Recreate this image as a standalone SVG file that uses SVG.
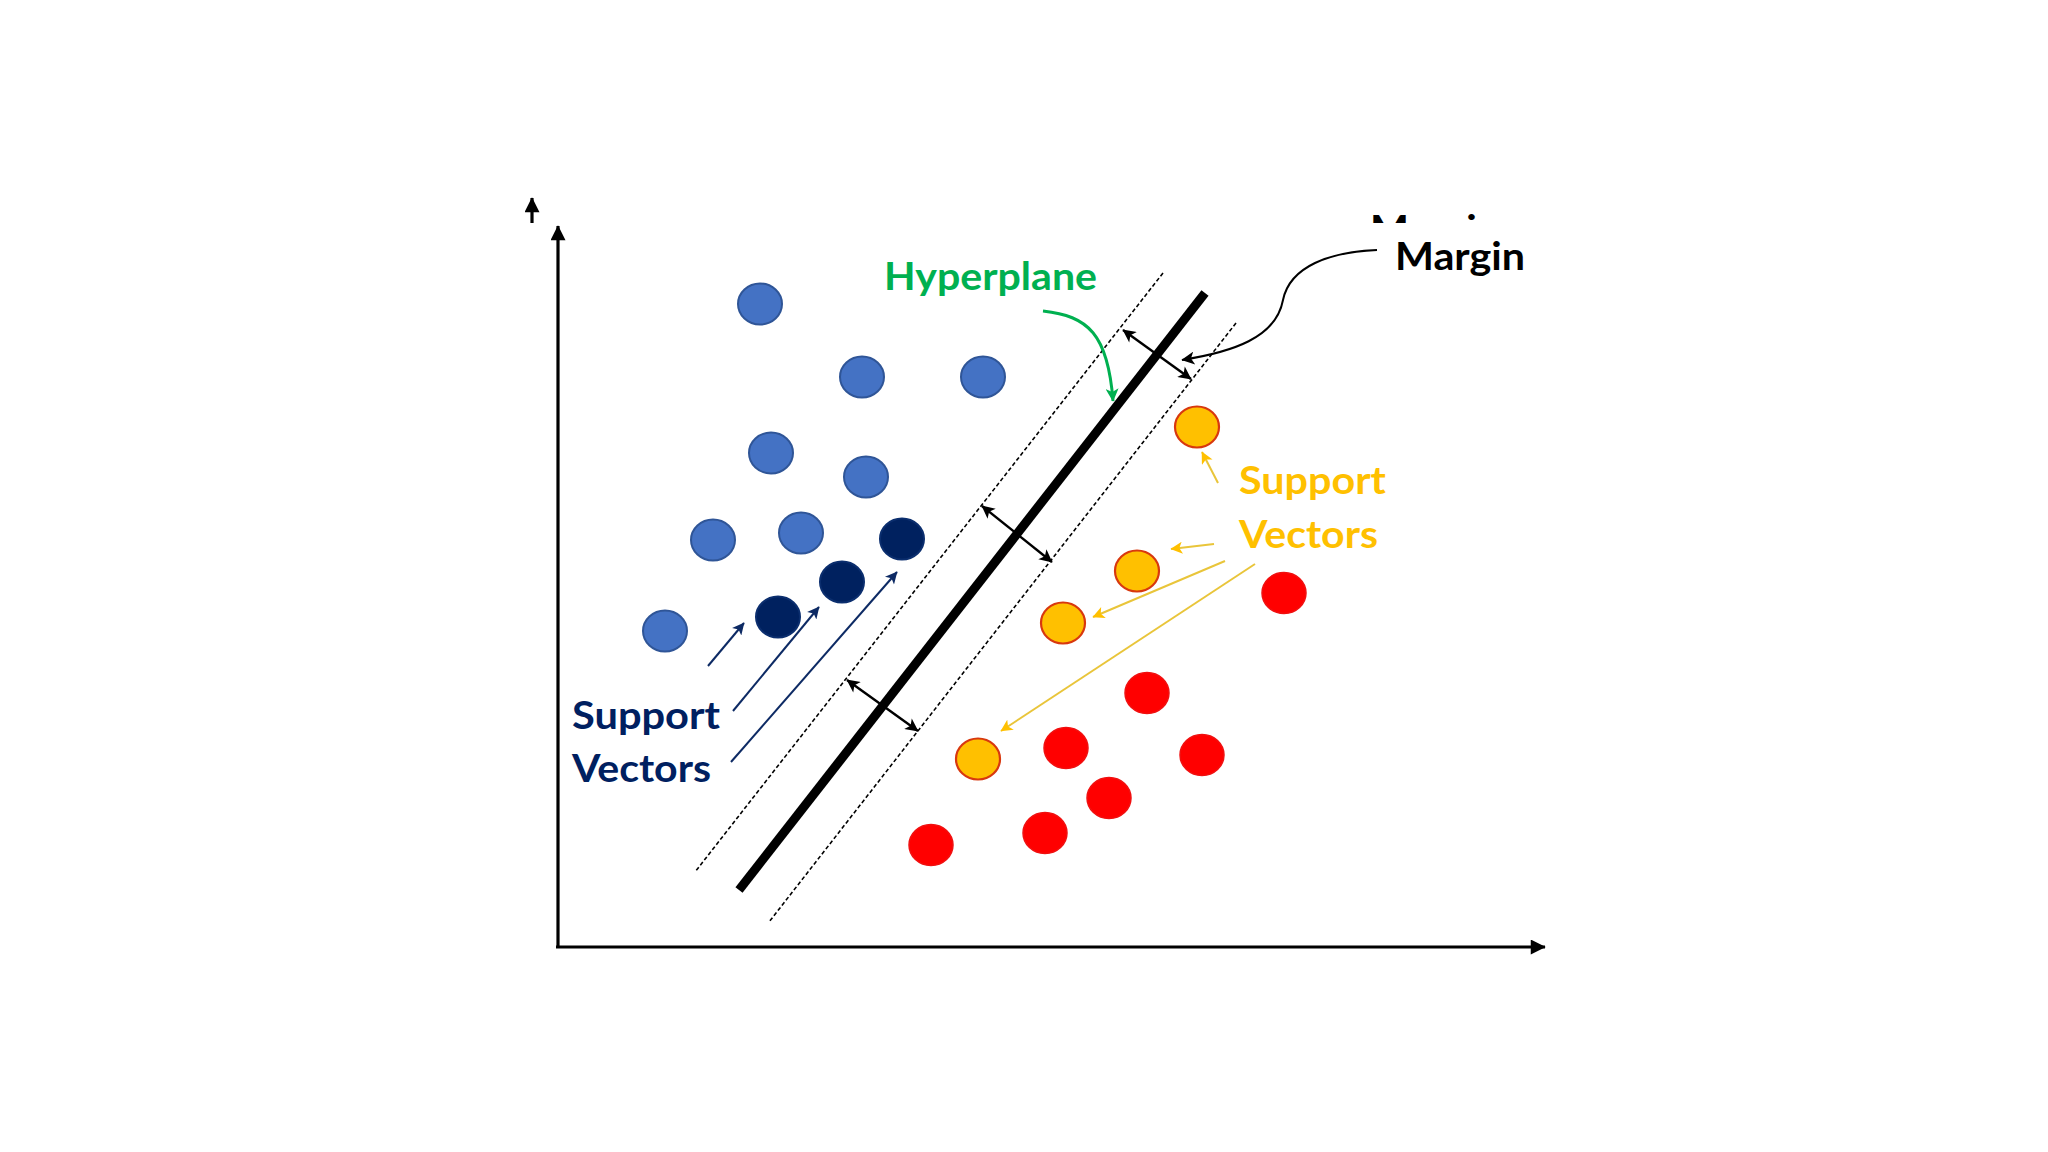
<svg xmlns="http://www.w3.org/2000/svg" width="2048" height="1152" viewBox="0 0 2048 1152">
  <style>
    .lbl { font-family: Lato, "Open Sans", "Liberation Sans", sans-serif; font-weight: bold; font-size: 39px; }
    .blue { fill: #4472C4; stroke: #2F5597; stroke-width: 2; }
    .dark { fill: #00215F; stroke: #0B2E6E; stroke-width: 2; }
    .red { fill: #FF0000; stroke: #F01010; stroke-width: 1.5; }
    .sv { fill: #FFC000; stroke: #D8380E; stroke-width: 2.2; }
    .axis { stroke: #000; stroke-width: 3.2; fill: none; }
    .dash { stroke: #000; stroke-width: 1.6; stroke-dasharray: 4 2.5; fill: none; }
    .dbl { stroke: #000; stroke-width: 2.4; fill: none; marker-start: url(#ab); marker-end: url(#ab); }
    .nav { stroke: #0D2A64; stroke-width: 2; fill: none; marker-end: url(#an); }
    .yel { stroke: #E9C53A; stroke-width: 2; fill: none; marker-end: url(#ay); }
  </style>
  <defs>
    <marker id="ab" viewBox="0 0 10 10" refX="9.5" refY="5" markerUnits="userSpaceOnUse" markerWidth="15" markerHeight="13" orient="auto-start-reverse">
      <path d="M0,0 L10,5 L0,10 L2.5,5 z" fill="#000"/>
    </marker>
    <marker id="aa" viewBox="0 0 10 10" refX="9.5" refY="5" markerUnits="userSpaceOnUse" markerWidth="17" markerHeight="15" orient="auto">
      <path d="M0,0 L10,5 L0,10 z" fill="#000"/>
    </marker>
    <marker id="an" viewBox="0 0 10 10" refX="9.5" refY="5" markerUnits="userSpaceOnUse" markerWidth="14" markerHeight="12" orient="auto">
      <path d="M0,0 L10,5 L0,10 L2.5,5 z" fill="#0D2A64"/>
    </marker>
    <marker id="ay" viewBox="0 0 10 10" refX="9.5" refY="5" markerUnits="userSpaceOnUse" markerWidth="14" markerHeight="12" orient="auto">
      <path d="M0,0 L10,5 L0,10 L2.5,5 z" fill="#FFC000"/>
    </marker>
    <marker id="ag" viewBox="0 0 10 10" refX="9.5" refY="5" markerUnits="userSpaceOnUse" markerWidth="15" markerHeight="13" orient="auto">
      <path d="M0,0 L10,5 L0,10 L2.5,5 z" fill="#00B050"/>
    </marker>
    <marker id="am" viewBox="0 0 10 10" refX="9.5" refY="5" markerUnits="userSpaceOnUse" markerWidth="15" markerHeight="13" orient="auto">
      <path d="M0,0 L10,5 L0,10 L2.5,5 z" fill="#000"/>
    </marker>
    <clipPath id="ghostclip"><rect x="1360" y="205" width="200" height="18"/></clipPath>
  </defs>
  <rect width="2048" height="1152" fill="#fff"/>

  <g id="axes">
    <line class="axis" x1="558" y1="947" x2="558" y2="226" marker-end="url(#aa)"/>
    <line class="axis" x1="556" y1="947" x2="1545" y2="947" marker-end="url(#aa)"/>
    <line class="axis" x1="532" y1="223" x2="532" y2="198" marker-end="url(#aa)"/>
  </g>

  <g id="hyperplane-lines">
    <line x1="1205" y1="293" x2="739" y2="890" stroke="#000" stroke-width="9"/>
    <line class="dash" x1="1163" y1="273" x2="695" y2="872"/>
    <line class="dash" x1="1236" y1="323" x2="769" y2="922"/>
  </g>

  <g id="connectors">
    <line class="dbl" x1="1123" y1="330" x2="1191" y2="379"/>
    <line class="dbl" x1="982" y1="506" x2="1052" y2="562"/>
    <line class="dbl" x1="847" y1="680" x2="918" y2="731"/>
    <path d="M1377,250 C1330,252 1290,266 1283,300 C1276,338 1232,352 1182,360" stroke="#000" stroke-width="2" fill="none" marker-end="url(#am)"/>
    <path d="M1043,311 C1088,316 1108,334 1113,401" stroke="#00B050" stroke-width="3" fill="none" marker-end="url(#ag)"/>
    <line class="nav" x1="708" y1="666" x2="744" y2="623"/>
    <line class="nav" x1="733" y1="711" x2="819" y2="607"/>
    <line class="nav" x1="731" y1="762" x2="897" y2="572"/>
    <line class="yel" x1="1218" y1="483" x2="1202" y2="452"/>
    <line class="yel" x1="1214" y1="544" x2="1171" y2="549"/>
    <line class="yel" x1="1225" y1="561" x2="1093" y2="617"/>
    <line class="yel" x1="1255" y1="564" x2="1001" y2="731"/>
  </g>

  <g id="class-blue">
    <ellipse id="b1" class="blue" cx="760" cy="304" rx="22" ry="20.5"/>
    <ellipse id="b2" class="blue" cx="862" cy="377" rx="22" ry="20.5"/>
    <ellipse id="b3" class="blue" cx="983" cy="377" rx="22" ry="20.5"/>
    <ellipse id="b4" class="blue" cx="771" cy="453" rx="22" ry="20.5"/>
    <ellipse id="b5" class="blue" cx="866" cy="477" rx="22" ry="20.5"/>
    <ellipse id="b6" class="blue" cx="713" cy="540" rx="22" ry="20.5"/>
    <ellipse id="b7" class="blue" cx="801" cy="533" rx="22" ry="20.5"/>
    <ellipse id="b8" class="blue" cx="665" cy="631" rx="22" ry="20.5"/>
  </g>
  <g id="blue-support-vectors">
    <ellipse id="d1" class="dark" cx="902" cy="539" rx="22" ry="20.5"/>
    <ellipse id="d2" class="dark" cx="842" cy="582" rx="22" ry="20.5"/>
    <ellipse id="d3" class="dark" cx="778" cy="617" rx="22" ry="20.5"/>
  </g>
  <g id="red-support-vectors">
    <ellipse id="o1" class="sv" cx="1197" cy="427" rx="22" ry="20.5"/>
    <ellipse id="o2" class="sv" cx="1137" cy="571" rx="22" ry="20.5"/>
    <ellipse id="o3" class="sv" cx="1063" cy="623" rx="22" ry="20.5"/>
    <ellipse id="o4" class="sv" cx="978" cy="759" rx="22" ry="20.5"/>
  </g>
  <g id="class-red">
    <ellipse id="r1" class="red" cx="1284" cy="593" rx="22" ry="20.5"/>
    <ellipse id="r2" class="red" cx="1147" cy="693" rx="22" ry="20.5"/>
    <ellipse id="r3" class="red" cx="1066" cy="748" rx="22" ry="20.5"/>
    <ellipse id="r4" class="red" cx="1202" cy="755" rx="22" ry="20.5"/>
    <ellipse id="r5" class="red" cx="1109" cy="798" rx="22" ry="20.5"/>
    <ellipse id="r6" class="red" cx="1045" cy="833" rx="22" ry="20.5"/>
    <ellipse id="r7" class="red" cx="931" cy="845" rx="22" ry="20.5"/>
  </g>

  <g id="labels">
    <text class="lbl" x="1370" y="243" fill="#000" clip-path="url(#ghostclip)" textLength="130" lengthAdjust="spacingAndGlyphs">Margin</text>
    <text class="lbl" x="1395" y="270" fill="#000" textLength="130" lengthAdjust="spacingAndGlyphs">Margin</text>
    <text class="lbl" x="884" y="290" fill="#00B050" textLength="213" lengthAdjust="spacingAndGlyphs">Hyperplane</text>
    <text class="lbl" x="1239" y="494" fill="#FFC000" textLength="147" lengthAdjust="spacingAndGlyphs">Support</text>
    <text class="lbl" x="1239" y="548" fill="#FFC000" textLength="139" lengthAdjust="spacingAndGlyphs">Vectors</text>
    <text class="lbl" x="572" y="729" fill="#002060" textLength="148" lengthAdjust="spacingAndGlyphs">Support</text>
    <text class="lbl" x="572" y="782" fill="#002060" textLength="139" lengthAdjust="spacingAndGlyphs">Vectors</text>
  </g>
</svg>
